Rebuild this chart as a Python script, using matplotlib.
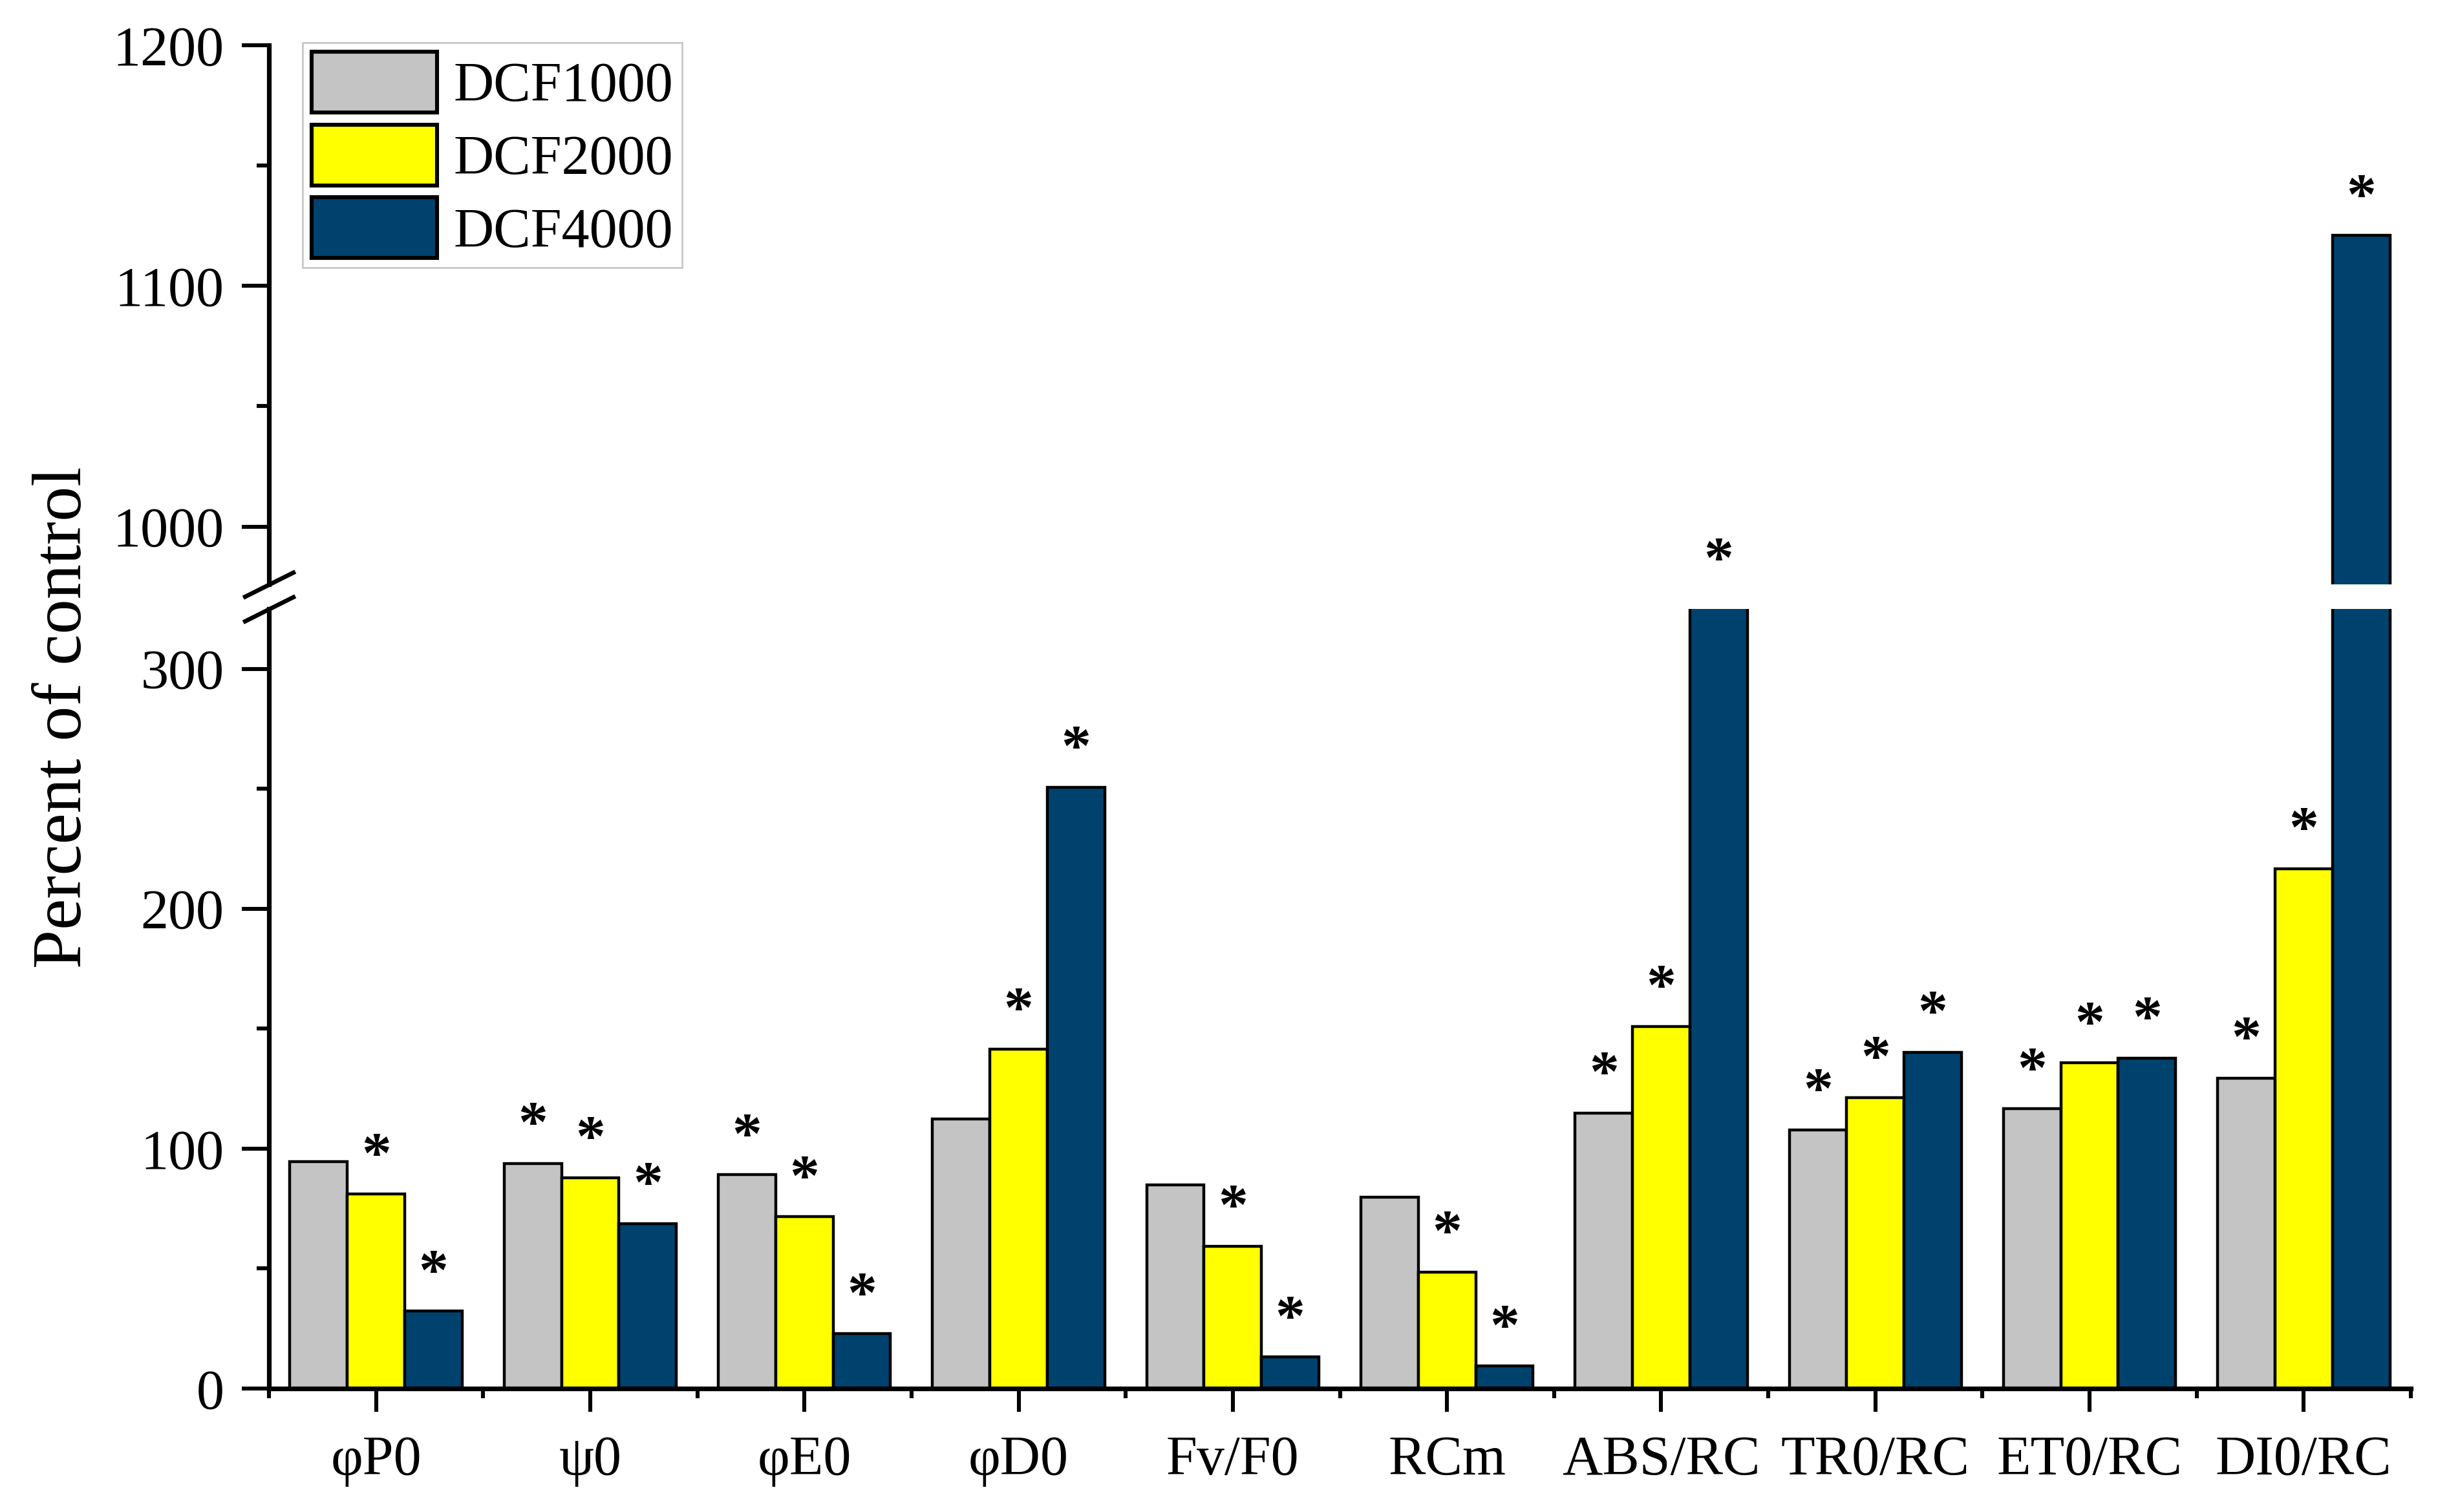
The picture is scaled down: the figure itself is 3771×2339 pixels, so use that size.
import numpy as np
import matplotlib.pyplot as plt
from matplotlib.ticker import MultipleLocator

plt.rcParams['font.family'] = ['Liberation Serif', 'DejaVu Serif']

# data (percent of control)
categories = ['φP0', 'ψ0', 'φE0', 'φD0', 'Fv/F0', 'RCm',
              'ABS/RC', 'TR0/RC', 'ET0/RC', 'DI0/RC']
series_names = ['DCF1000', 'DCF2000', 'DCF4000']
dcf1000 = [94.5, 93.9, 89.2, 112.4, 84.9, 79.8, 114.9, 107.9, 116.7, 129.4]
dcf2000 = [81.1, 87.9, 71.7, 141.6, 59.4, 48.6, 151.0, 121.4, 135.8, 216.8]
dcf4000 = [32.3, 68.8, 22.8, 250.7, 13.1, 9.3, 970.0, 140.2, 137.8, 1121.0]
# 1 = significant difference (asterisk)
sig1000 = [0, 1, 1, 0, 0, 0, 1, 1, 1, 1]
sig2000 = [1, 1, 1, 1, 1, 1, 1, 1, 1, 1]
sig4000 = [1, 1, 1, 1, 1, 1, 1, 1, 1, 1]

colors = ['#C4C4C4', '#FFFF00', '#00426E']
FS = 31


def main():
    fig = plt.figure(figsize=(18.855, 11.695), dpi=200)
    left, width = 416 / 3771, (3729 - 416) / 3771
    ax_top = fig.add_axes([left, 1 - 904 / 2339, width, (904 - 70) / 2339])
    ax_bot = fig.add_axes([left, 1 - 2148 / 2339, width, (2148 - 942) / 2339])

    x = np.arange(len(categories))
    w = 0.268
    offsets = [-w, 0, w]
    values = [dcf1000, dcf2000, dcf4000]
    sigs = [sig1000, sig2000, sig4000]

    for ax in (ax_top, ax_bot):
        for vals, off, col, name in zip(values, offsets, colors, series_names):
            ax.bar(x + off, vals, w, color=col, edgecolor='black',
                   linewidth=1.6, label=name)
        ax.set_xlim(-0.5, 9.5)
        for s in ('top', 'right'):
            ax.spines[s].set_visible(False)
        ax.spines['left'].set_linewidth(2.6)
        ax.spines['bottom'].set_linewidth(2.6)
        ax.tick_params(axis='y', which='major', length=15, width=2.2,
                       labelsize=FS, pad=10)
        ax.tick_params(axis='y', which='minor', length=7, width=2.2)

    ax_bot.set_ylim(0, 325)
    ax_bot.yaxis.set_major_locator(MultipleLocator(100))
    ax_bot.yaxis.set_minor_locator(MultipleLocator(50))
    ax_bot.set_xticks(x)
    ax_bot.set_xticklabels(categories)
    ax_bot.set_xticks(np.arange(-0.5, 10, 1), minor=True)
    ax_bot.tick_params(axis='x', which='major', length=13, width=2.2,
                       labelsize=FS, pad=13)
    ax_bot.tick_params(axis='x', which='minor', length=5.5, width=2.2)

    ax_top.set_ylim(976, 1200)
    ax_top.yaxis.set_major_locator(MultipleLocator(100))
    ax_top.yaxis.set_minor_locator(MultipleLocator(50))
    ax_top.spines['bottom'].set_visible(False)
    ax_top.tick_params(axis='x', which='both', bottom=False, labelbottom=False)

    # asterisks above the bars
    for vals, off, sg in zip(values, offsets, sigs):
        for j, v in enumerate(vals):
            if not sg[j]:
                continue
            ax = ax_top if v > 325 else ax_bot
            ax.text(x[j] + off, v + 9.0, '*', ha='center', va='baseline',
                    fontsize=FS + 2, fontweight='bold')

    # axis break marks
    kw = dict(marker=[(-1, -0.5), (1, 0.5)], markersize=29, linestyle='none',
              color='k', mec='k', mew=2.4, clip_on=False)
    ax_top.plot([0], [0], transform=ax_top.transAxes, **kw)
    ax_bot.plot([0], [1], transform=ax_bot.transAxes, **kw)

    fig.text(125 / 3771, 1 - 1110 / 2339, 'Percent of control', rotation=90,
             rotation_mode='anchor', ha='center', va='baseline', fontsize=39)

    handles, labels = ax_bot.get_legend_handles_labels()
    leg = ax_top.legend(handles, labels, loc='upper left',
                        bbox_to_anchor=(468 / 3771, 1 - 66 / 2339),
                        bbox_transform=fig.transFigure, borderaxespad=0,
                        fancybox=False, edgecolor='#C8C8C8', framealpha=1,
                        handlelength=2.26, handleheight=1.3,
                        labelspacing=0.21, handletextpad=0.29, borderpad=0.16,
                        fontsize=FS)
    leg.get_frame().set_linewidth(1.0)
    for h in leg.legend_handles:
        h.set_linewidth(2.2)

    fig.savefig('out.png', dpi=200)


if __name__ == '__main__':
    main()
